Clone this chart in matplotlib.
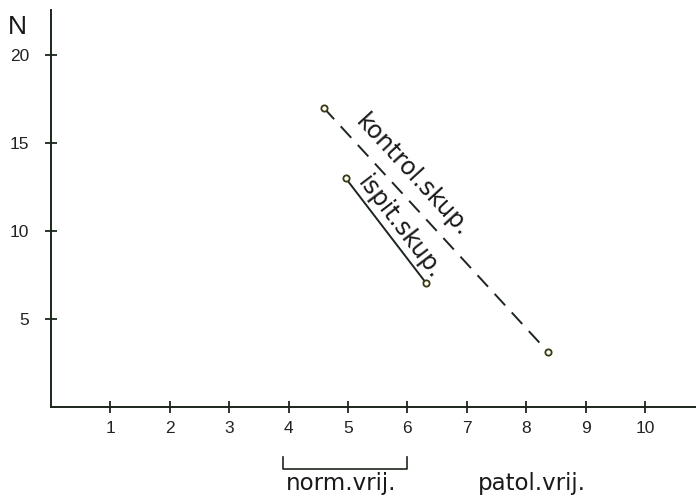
import numpy as np
import matplotlib.pyplot as plt

# podaci: kontrolni i ispitni skup (krajnje tocke pravaca)
kontrol_x = [4.59, 8.37]
kontrol_y = [17.0, 3.1]
ispit_x = [4.96, 6.31]
ispit_y = [13.0, 7.05]

x_ticks = [1, 2, 3, 4, 5, 6, 7, 8, 9, 10]
y_ticks = [5, 10, 15, 20]
norm_range = [3.9, 6.0]

ink = "#1c261c"
plt.rcParams["font.family"] = ["Liberation Sans", "DejaVu Sans"]

fig = plt.figure(figsize=(6.96, 4.98), dpi=100)
ax = fig.add_axes([51 / 696, 1 - 406.6 / 498, 1 - 51 / 696, (406.6 - 10) / 498])
ax.set_xlim(0, 10.86)
ax.set_ylim(0, 22.56)

# pravci
ax.plot(kontrol_x, kontrol_y, color=ink, lw=1.4, ls=(0, (8, 5)),
        marker="o", ms=4.5, mfc="white", mec="#3a3a10", mew=1.3)
ax.plot(ispit_x, ispit_y, color=ink, lw=1.4,
        marker="o", ms=4.5, mfc="white", mec="#3a3a10", mew=1.3)

# osi
for s in ["top", "right"]:
    ax.spines[s].set_visible(False)
for s in ["left", "bottom"]:
    ax.spines[s].set_color(ink)
    ax.spines[s].set_linewidth(1.4)
ax.set_xticks(x_ticks)
ax.set_yticks(y_ticks)
ax.tick_params(direction="inout", length=9, width=1.3, color=ink,
               labelsize=12.5, labelcolor="#222")
ax.tick_params(axis="x", pad=6)
ax.tick_params(axis="y", pad=11)

fig.canvas.draw()


def line_label(xs, ys, text, along, perp):
    # natpis uz pravac: pomak duz pravca i okomito na njega (u pikselima)
    p = ax.transData.transform(np.column_stack([xs, ys]))
    d = p[1] - p[0]
    u = d / np.hypot(*d)
    n = np.array([-u[1], u[0]])
    if n[1] < 0:
        n = -n
    pos = p[0] + u * along + n * perp
    xy = ax.transData.inverted().transform(pos)
    ax.text(xy[0], xy[1], text, rotation=np.degrees(np.arctan2(d[1], d[0])),
            rotation_mode="anchor", ha="left", va="baseline",
            fontsize=17.5, family="DejaVu Sans", color="#1a1a1a")


line_label(kontrol_x, kontrol_y, "kontrol.skup.", 32, 13)
line_label(ispit_x, ispit_y, "ispit.skup.", 11, 6)

# oznaka osi N
fig.text(17 / 696, 1 - 27 / 498, "N", ha="center", va="center", fontsize=19, color="#1a1a1a")

# zagrada normalnih vrijednosti ispod osi
y0 = -2.85
y1 = -3.55
ax.plot([norm_range[0], norm_range[0], norm_range[1], norm_range[1]], [y0, y1, y1, y0],
        color=ink, lw=1.2, clip_on=False)
ax.text(np.mean(norm_range) - 0.07, -4.4, "norm.vrij.", ha="center", va="center",
        fontsize=16.5, family="DejaVu Sans", color="#1a1a1a")
ax.text(8.1, -4.4, "patol.vrij.", ha="center", va="center",
        fontsize=16.5, family="DejaVu Sans", color="#1a1a1a")

fig.savefig("out.png", dpi=100, facecolor="white")
